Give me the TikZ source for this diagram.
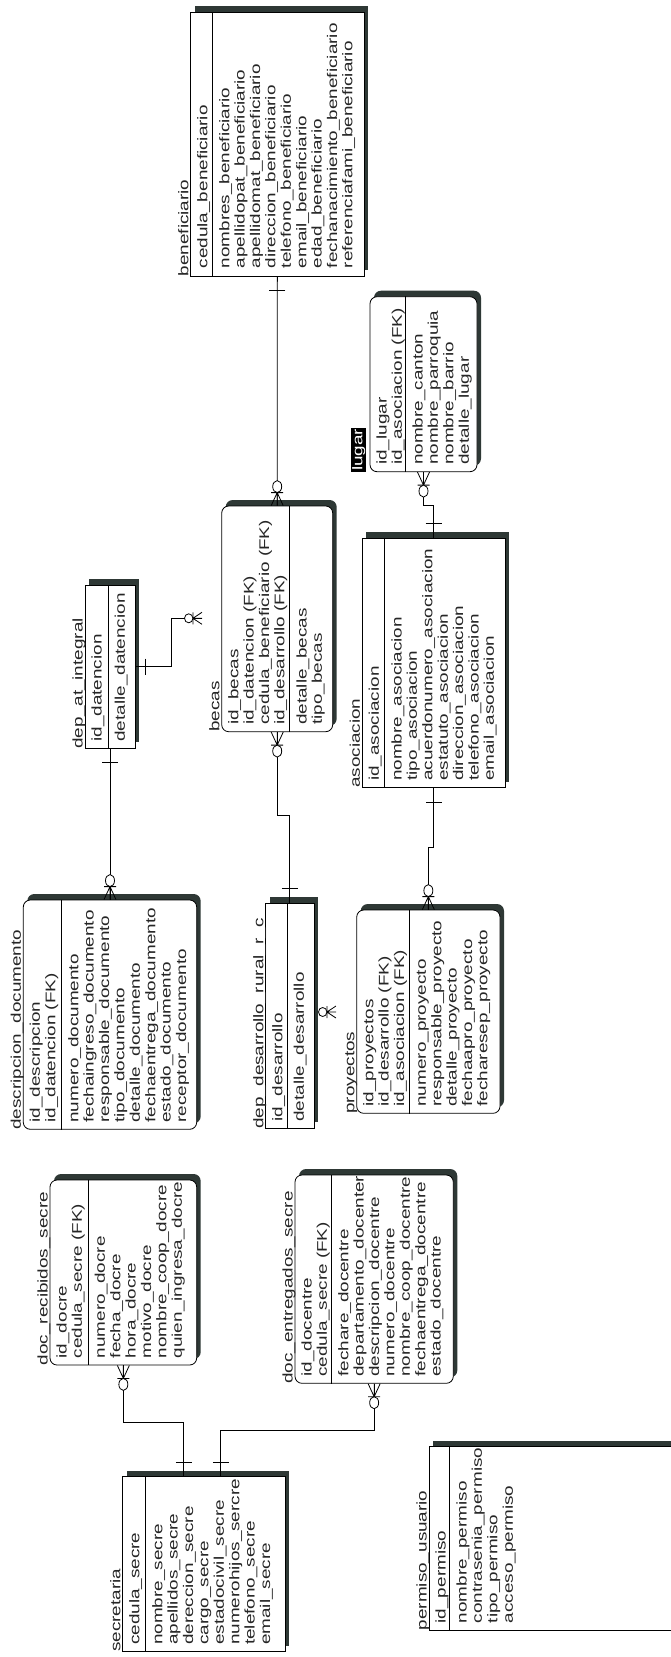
\documentclass[tikz,border=0pt]{standalone}
\usepackage{fontspec}
\newfontfamily\erfont{Liberation Sans}[FakeStretch=1.35]
\usetikzlibrary{positioning, fit, shadows}
\definecolor{shade}{RGB}{46,56,53}

\begin{document}
\begin{tikzpicture}[
        x=1pt, y=-1pt,
        ent/.style={draw, line width=0.8pt, fill=white, inner sep=0pt,
            drop shadow={shadow xshift=4pt, shadow yshift=6pt, fill=shade, opacity=1}},
        rnd/.style={ent, rounded corners=7pt},
        div/.style={line width=0.8pt},
        txt/.style={rotate=90, inner sep=0pt, text=black!85, font=\erfont\fontsize{14}{15.4}\selectfont},
        ttl/.style={txt, anchor=base west},
        attr/.style={txt, anchor=north west, align=left},
        rel/.style={line width=0.8pt},
        one/.pic={\draw[rel] (14,-8) -- (14,8);},
        many/.pic={
            \draw[rel] (0,-6) -- (13,0) -- (0,6) (0,0) -- (13,0) (13,-6) -- (13,6);
            \draw[rel, fill=white] (19,0) ellipse [x radius=6, y radius=4.5];
        }
    ]
        \fill[white] (0,0) rectangle (671,1657);
        \useasboundingbox (0,0) rectangle (671,1657);

        % Nodes
        % beneficiario
        \node[ent, fit={(190.7,12.3) (364,276)}] (ben) {};
        \draw[div] ([xshift=22pt]ben.north west) -- ([xshift=22pt]ben.south west);
        \node[ttl] (benT) at ([xshift=-2pt]ben.south west) {beneficiario};
        \node[attr] (benK) at ([xshift=6pt, yshift=8pt]ben.south west) {\strut cedula\_beneficiario};
        \node[attr] (benA) at ([xshift=28pt, yshift=8pt]ben.south west) {\strut nombres\_beneficiario\\ apellidopat\_beneficiario\\ apellidomat\_beneficiario\\ direccion\_beneficiario\\ telefono\_beneficiario\\ email\_beneficiario\\ edad\_beneficiario\\ fechanacimiento\_beneficiario\\ referenciafami\_beneficiario};

        % lugar
        \node[rnd, fit={(370,296.7) (477,471.7)}] (lugar) {};
        \draw[div] ([xshift=36pt]lugar.north west) -- ([xshift=36pt]lugar.south west);
        \node[txt, anchor=south west, fill=black, text=white, inner xsep=1pt, inner ysep=1pt] (lugarT) at ([xshift=-3pt]lugar.south west) {lugar};
        \node[attr] (lugarK) at ([xshift=6pt, yshift=7pt]lugar.south west) {\strut id\_lugar\\ id\_asociacion (FK)};
        \node[attr] (lugarA) at ([xshift=42pt, yshift=7pt]lugar.south west) {\strut nombre\_canton\\ nombre\_parroquia\\ nombre\_barrio\\ detalle\_lugar};

        % dep_at_integral
        \node[ent, fit={(85,585) (135,748.3)}] (depat) {};
        \draw[div] ([xshift=23.3pt]depat.north west) -- ([xshift=23.3pt]depat.south west);
        \node[ttl] (depatT) at ([xshift=-2pt]depat.south west) {dep\_at\_integral};
        \node[attr] (depatK) at ([xshift=6pt, yshift=7pt]depat.south west) {\strut id\_datencion};
        \node[attr] (depatA) at ([xshift=29.3pt, yshift=7pt]depat.south west) {\strut detalle\_datencion};

        % becas
        \node[rnd, fit={(221.7,506) (332.7,731.7)}] (becas) {};
        \draw[div] ([xshift=68.3pt]becas.north west) -- ([xshift=68.3pt]becas.south west);
        \node[ttl] (becasT) at ([xshift=-2pt]becas.south west) {becas};
        \node[attr] (becasK) at ([xshift=6pt, yshift=7pt]becas.south west) {\strut id\_becas\\ id\_datencion (FK)\\ cedula\_beneficiario (FK)\\ id\_desarrollo (FK)};
        \node[attr] (becasA) at ([xshift=74.3pt, yshift=7pt]becas.south west) {\strut detalle\_becas\\ tipo\_becas};

        % asociacion
        \node[ent, fit={(362.3,538) (505,787.7)}] (asoc) {};
        \draw[div] ([xshift=22.7pt]asoc.north west) -- ([xshift=22.7pt]asoc.south west);
        \node[ttl] (asocT) at ([xshift=-2pt]asoc.south west) {asociacion};
        \node[attr] (asocK) at ([xshift=6pt, yshift=7pt]asoc.south west) {\strut id\_asociacion};
        \node[attr] (asocA) at ([xshift=28.7pt, yshift=7pt]asoc.south west) {\strut nombre\_asociacion\\ tipo\_asociacion\\ acuerdonumero\_asociacion\\ estatuto\_asociacion\\ direccion\_asociacion\\ telefono\_asociacion\\ email\_asociacion};

        % descripcion_documento
        \node[rnd, fit={(23.3,900) (196.7,1129.3)}] (desc) {};
        \draw[div] ([xshift=38.4pt]desc.north west) -- ([xshift=38.4pt]desc.south west);
        \node[ttl] (descT) at ([xshift=-2pt]desc.south west) {descripcion\_documento};
        \node[attr] (descK) at ([xshift=6pt, yshift=7pt]desc.south west) {\strut id\_descripcion\\ id\_datencion (FK)};
        \node[attr] (descA) at ([xshift=44.4pt, yshift=7pt]desc.south west) {\strut numero\_documento\\ fechaingreso\_documento\\ responsable\_documento\\ tipo\_documento\\ detalle\_documento\\ fechaentrega\_documento\\ estado\_documento\\ receptor\_documento};

        % dep_desarrollo_rural_r_c
        \node[ent, fit={(265.7,903) (314,1128.3)}] (desa) {};
        \draw[div] ([xshift=21.6pt]desa.north west) -- ([xshift=21.6pt]desa.south west);
        \node[ttl] (desaT) at ([xshift=-2pt]desa.south west) {dep\_desarrollo\_rural\_r\_c};
        \node[attr] (desaK) at ([xshift=6pt, yshift=7pt]desa.south west) {\strut id\_desarrollo};
        \node[attr] (desaA) at ([xshift=27.6pt, yshift=7pt]desa.south west) {\strut detalle\_desarrollo};

        % proyectos
        \node[rnd, fit={(356.7,910) (500,1113.3)}] (proy) {};
        \draw[div] ([xshift=52.6pt]proy.north west) -- ([xshift=52.6pt]proy.south west);
        \node[ttl] (proyT) at ([xshift=-2pt]proy.south west) {proyectos};
        \node[attr] (proyK) at ([xshift=6pt, yshift=7pt]proy.south west) {\strut id\_proyectos\\ id\_desarrollo (FK)\\ id\_asociacion (FK)};
        \node[attr] (proyA) at ([xshift=58.6pt, yshift=7pt]proy.south west) {\strut numero\_proyecto\\ responsable\_proyecto\\ detalle\_proyecto\\ fechaapro\_proyecto\\ fecharesep\_proyecto};

        % doc_recibidos_secre
        \node[rnd, fit={(50,1180) (196.7,1365)}] (docre) {};
        \draw[div] ([xshift=38.3pt]docre.north west) -- ([xshift=38.3pt]docre.south west);
        \node[ttl] (docreT) at ([xshift=-2pt]docre.south west) {doc\_recibidos\_secre};
        \node[attr] (docreK) at ([xshift=6pt, yshift=7pt]docre.south west) {\strut id\_docre\\ cedula\_secre (FK)};
        \node[attr] (docreA) at ([xshift=44.3pt, yshift=7pt]docre.south west) {\strut numero\_docre\\ fecha\_docre\\ hora\_docre\\ motivo\_docre\\ nombre\_coop\_docre\\ quien\_ingresa\_docre};

        % doc_entregados_secre
        \node[rnd, fit={(295,1175) (453.3,1383.3)}] (docen) {};
        \draw[div] ([xshift=36.7pt]docen.north west) -- ([xshift=36.7pt]docen.south west);
        \node[ttl] (docenT) at ([xshift=-2pt]docen.south west) {doc\_entregados\_secre};
        \node[attr] (docenK) at ([xshift=6pt, yshift=7pt]docen.south west) {\strut id\_docentre\\ cedula\_secre (FK)};
        \node[attr] (docenA) at ([xshift=42.7pt, yshift=7pt]docen.south west) {\strut fechare\_docentre\\ departamento\_docenter\\ descripcion\_docentre\\ numero\_docentre\\ nombre\_coop\_docentre\\ fechaentrega\_docentre\\ estado\_docentre};

        % secretaria
        \node[ent, fit={(122.7,1476.7) (285,1651.7)}] (secre) {};
        \draw[div] ([xshift=23pt]secre.north west) -- ([xshift=23pt]secre.south west);
        \node[ttl] (secreT) at ([xshift=-2pt]secre.south west) {secretaria};
        \node[attr] (secreK) at ([xshift=6pt, yshift=7pt]secre.south west) {\strut cedula\_secre};
        \node[attr] (secreA) at ([xshift=29pt, yshift=7pt]secre.south west) {\strut nombre\_secre\\ apellidos\_secre\\ dereccion\_secre\\ cargo\_secre\\ estadocivil\_secre\\ numerohijos\_sercre\\ telefono\_secre\\ email\_secre};

        % permiso_usuario
        \node[ent, fit={(429,1446.7) (690,1630)}] (perm) {};
        \draw[div] ([xshift=21pt]perm.north west) -- ([xshift=21pt]perm.south west);
        \node[ttl] (permT) at ([xshift=-2pt]perm.south west) {permiso\_usuario};
        \node[attr] (permK) at ([xshift=6pt, yshift=7pt]perm.south west) {\strut id\_permiso};
        \node[attr] (permA) at ([xshift=27pt, yshift=7pt]perm.south west) {\strut nombre\_permiso\\ contrasenia\_permiso\\ tipo\_permiso\\ acceso\_permiso};

        % free ends
        \coordinate (becasL) at (202,618.3);
        \coordinate (desaR) at (336,1012);

        % Relationships
        \draw[rel] (ben.south) -- (becas.north);
        \draw[rel] (lugar.south) -- ++(0,33) -| (asoc.north);
        \draw[rel] (depat.east) -- ++(36,0) |- (becasL);
        \draw[rel] (depat.south) -- (desc.north);
        \draw[rel] (becas.south) -- ++(0,83) -| (desa.north);
        \draw[rel] (asoc.south) -- ++(0,59) -| (proy.north);
        \draw[rel] (docre.south) -- ++(0,57) -| ([xshift=-20pt]secre.north);
        \draw[rel] (docen.south) -- ++(0,47) -| ([xshift=17pt]secre.north);

        % Ends
        \pic[rotate=-90] at (ben.south) {one};
        \pic[rotate=90] at (becas.north) {many};
        \pic[rotate=-90] at (lugar.south) {many};
        \pic[rotate=90] at (asoc.north) {one};
        \pic[xscale=0.7] at (depat.east) {one};
        \pic[rotate=180, xscale=0.7] at (becasL) {many};
        \pic[rotate=-90] at (depat.south) {one};
        \pic[rotate=90] at (desc.north) {many};
        \pic[rotate=-90] at (becas.south) {many};
        \pic[rotate=90] at (desa.north) {one};
        \pic[rotate=-90] at (asoc.south) {one};
        \pic[rotate=90] at (proy.north) {many};
        \pic[rotate=-90] at (docre.south) {many};
        \pic[rotate=90] at ([xshift=-20pt]secre.north) {one};
        \pic[rotate=-90] at (docen.south) {many};
        \pic[rotate=90] at ([xshift=17pt]secre.north) {one};
        \pic[rotate=180, xscale=0.7] at (desaR) {many};
    \end{tikzpicture}
\end{document}
